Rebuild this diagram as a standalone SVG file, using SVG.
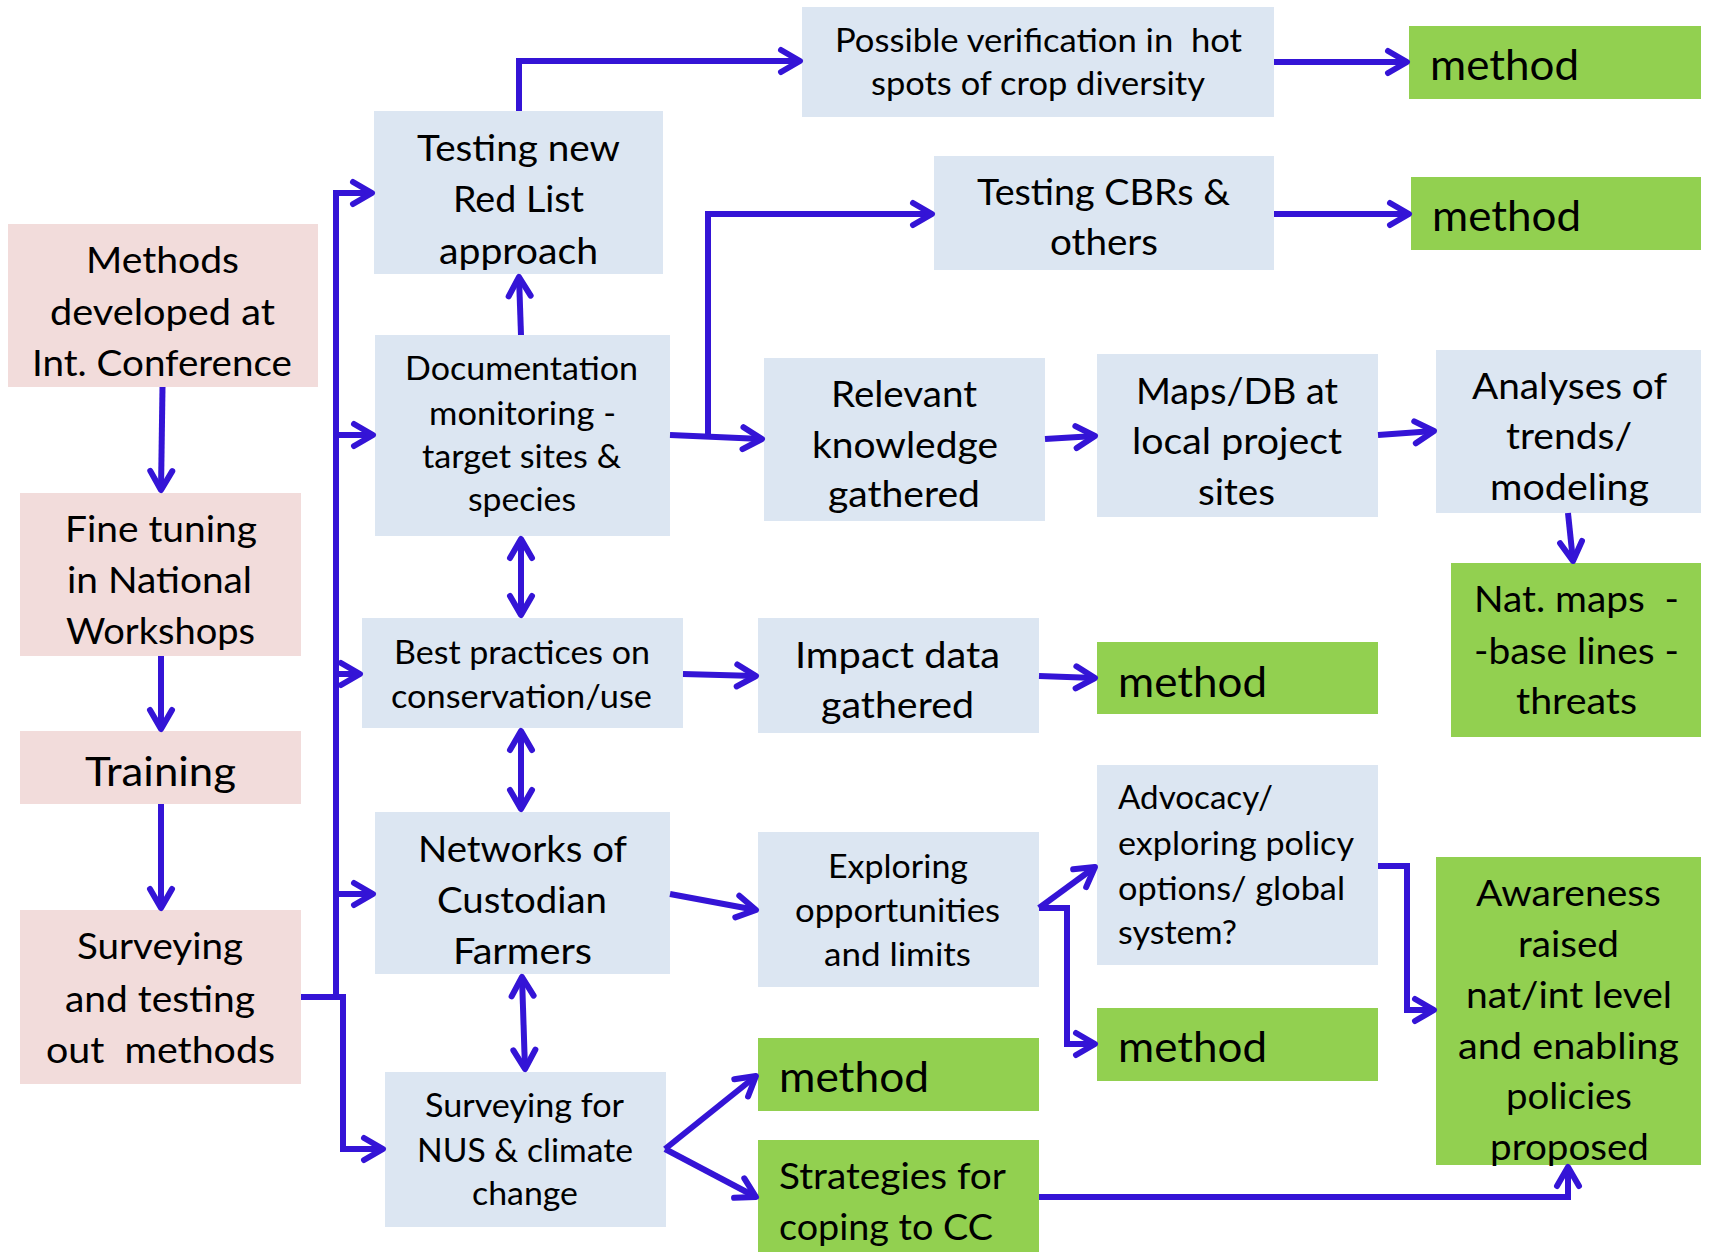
<svg xmlns="http://www.w3.org/2000/svg" width="1711" height="1252" viewBox="0 0 1711 1252">
<style>
.pink{fill:#F2DCDB}
.blue{fill:#DCE6F2}
.green{fill:#92D050}
text{font-family:Lato,"Liberation Sans",sans-serif;fill:#000;white-space:pre}
.L{font-size:37px;text-anchor:middle}
.M{font-size:32px;text-anchor:middle}
.Ml{font-size:32px}
.Ll{font-size:37px}
.tr{font-size:41px;text-anchor:middle}
.me{font-size:43px}
.c{fill:none;stroke:#3414D6;stroke-width:6;stroke-linejoin:miter}
.a{marker-end:url(#ah)}
.d{marker-end:url(#ah);marker-start:url(#ah)}
</style>
<defs>
<marker id="ah" viewBox="-26 -16 30 32" refX="0" refY="0" markerWidth="30" markerHeight="32" markerUnits="userSpaceOnUse" orient="auto-start-reverse">
<path d="M-19,-11 L0,0 L-19,11" fill="none" stroke="#3414D6" stroke-width="6" stroke-linecap="round" stroke-linejoin="round"/>
</marker>
</defs>

<g id="n-methods"><rect class="pink" x="8" y="224" width="310" height="163"/>
<text class="L" x="162.5" y="273" textLength="153" lengthAdjust="spacingAndGlyphs">Methods</text>
<text class="L" x="162.5" y="325" textLength="225" lengthAdjust="spacingAndGlyphs">developed at</text>
<text class="L" x="162" y="376" textLength="260" lengthAdjust="spacingAndGlyphs">Int. Conference</text></g>

<g id="n-finetuning"><rect class="pink" x="20" y="493" width="281" height="163"/>
<text class="L" x="161" y="542" textLength="192" lengthAdjust="spacingAndGlyphs">Fine tuning</text>
<text class="L" x="159.5" y="593" textLength="185" lengthAdjust="spacingAndGlyphs">in National</text>
<text class="L" x="160.5" y="644" textLength="189" lengthAdjust="spacingAndGlyphs">Workshops</text></g>

<g id="n-training"><rect class="pink" x="20" y="731" width="281" height="73"/>
<text class="tr" x="160.5" y="786" textLength="151" lengthAdjust="spacingAndGlyphs">Training</text></g>

<g id="n-surveying"><rect class="pink" x="20" y="910" width="281" height="174"/>
<text class="L" x="160" y="959" textLength="166" lengthAdjust="spacingAndGlyphs">Surveying</text>
<text class="L" x="160" y="1012" textLength="190" lengthAdjust="spacingAndGlyphs">and testing</text>
<text class="L" x="160.5" y="1063" textLength="229" lengthAdjust="spacingAndGlyphs">out  methods</text></g>

<g id="n-redlist"><rect class="blue" x="374" y="111" width="289" height="163"/>
<text class="L" x="518.5" y="161" textLength="203" lengthAdjust="spacingAndGlyphs">Testing new</text>
<text class="L" x="518.5" y="212" textLength="131" lengthAdjust="spacingAndGlyphs">Red List</text>
<text class="L" x="518.5" y="264" textLength="159" lengthAdjust="spacingAndGlyphs">approach</text></g>

<g id="n-documentation"><rect class="blue" x="375" y="335" width="295" height="201"/>
<text class="M" x="521.5" y="380" textLength="233" lengthAdjust="spacingAndGlyphs">Documentation</text>
<text class="M" x="522.5" y="425" textLength="187" lengthAdjust="spacingAndGlyphs">monitoring -</text>
<text class="M" x="521.5" y="468" textLength="199" lengthAdjust="spacingAndGlyphs">target sites &amp;</text>
<text class="M" x="522" y="511" textLength="108" lengthAdjust="spacingAndGlyphs">species</text></g>

<g id="n-bestpractices"><rect class="blue" x="362" y="618" width="321" height="110"/>
<text class="M" x="522" y="664" textLength="256" lengthAdjust="spacingAndGlyphs">Best practices on</text>
<text class="M" x="521.5" y="708" textLength="261" lengthAdjust="spacingAndGlyphs">conservation/use</text></g>

<g id="n-networks"><rect class="blue" x="375" y="812" width="295" height="162"/>
<text class="L" x="522.5" y="862" textLength="209" lengthAdjust="spacingAndGlyphs">Networks of</text>
<text class="L" x="522" y="913" textLength="170" lengthAdjust="spacingAndGlyphs">Custodian</text>
<text class="L" x="522.5" y="964" textLength="139" lengthAdjust="spacingAndGlyphs">Farmers</text></g>

<g id="n-nus"><rect class="blue" x="385" y="1072" width="281" height="155"/>
<text class="M" x="524.5" y="1117" textLength="199" lengthAdjust="spacingAndGlyphs">Surveying for</text>
<text class="M" x="525" y="1162" textLength="216" lengthAdjust="spacingAndGlyphs">NUS &amp; climate</text>
<text class="M" x="525" y="1205" textLength="106" lengthAdjust="spacingAndGlyphs">change</text></g>

<g id="n-possible"><rect class="blue" x="802" y="7" width="472" height="110"/>
<text class="M" x="1038.5" y="52" textLength="407" lengthAdjust="spacingAndGlyphs">Possible verification in  hot</text>
<text class="M" x="1038" y="95" textLength="334" lengthAdjust="spacingAndGlyphs">spots of crop diversity</text></g>

<g id="n-method1"><rect class="green" x="1409" y="26" width="292" height="73"/>
<text class="me" x="1430" y="80" textLength="149" lengthAdjust="spacingAndGlyphs">method</text></g>

<g id="n-cbrs"><rect class="blue" x="934" y="156" width="340" height="114"/>
<text class="L" x="1103.5" y="205" textLength="253" lengthAdjust="spacingAndGlyphs">Testing CBRs &amp;</text>
<text class="L" x="1104" y="255" textLength="108" lengthAdjust="spacingAndGlyphs">others</text></g>

<g id="n-method2"><rect class="green" x="1411" y="177" width="290" height="73"/>
<text class="me" x="1432" y="231" textLength="149" lengthAdjust="spacingAndGlyphs">method</text></g>

<g id="n-relevant"><rect class="blue" x="764" y="358" width="281" height="163"/>
<text class="L" x="904" y="407" textLength="146" lengthAdjust="spacingAndGlyphs">Relevant</text>
<text class="L" x="905" y="458" textLength="186" lengthAdjust="spacingAndGlyphs">knowledge</text>
<text class="L" x="904" y="507" textLength="152" lengthAdjust="spacingAndGlyphs">gathered</text></g>

<g id="n-maps"><rect class="blue" x="1097" y="354" width="281" height="163"/>
<text class="L" x="1237" y="404" textLength="202" lengthAdjust="spacingAndGlyphs">Maps/DB at</text>
<text class="L" x="1237" y="454" textLength="210" lengthAdjust="spacingAndGlyphs">local project</text>
<text class="L" x="1236.5" y="505" textLength="77" lengthAdjust="spacingAndGlyphs">sites</text></g>

<g id="n-analyses"><rect class="blue" x="1436" y="350" width="265" height="163"/>
<text class="L" x="1569.5" y="399" textLength="195" lengthAdjust="spacingAndGlyphs">Analyses of</text>
<text class="L" x="1569" y="449" textLength="126" lengthAdjust="spacingAndGlyphs">trends/</text>
<text class="L" x="1569.5" y="500" textLength="159" lengthAdjust="spacingAndGlyphs">modeling</text></g>

<g id="n-impact"><rect class="blue" x="758" y="618" width="281" height="115"/>
<text class="L" x="897.5" y="668" textLength="205" lengthAdjust="spacingAndGlyphs">Impact data</text>
<text class="L" x="897.5" y="718" textLength="153" lengthAdjust="spacingAndGlyphs">gathered</text></g>

<g id="n-method3"><rect class="green" x="1097" y="642" width="281" height="72"/>
<text class="me" x="1118" y="697" textLength="149" lengthAdjust="spacingAndGlyphs">method</text></g>

<g id="n-natmaps"><rect class="green" x="1451" y="563" width="250" height="174"/>
<text class="L" x="1576.5" y="612" textLength="205" lengthAdjust="spacingAndGlyphs">Nat. maps  -</text>
<text class="L" x="1576.5" y="664" textLength="205" lengthAdjust="spacingAndGlyphs">-base lines -</text>
<text class="L" x="1576.5" y="714" textLength="121" lengthAdjust="spacingAndGlyphs">threats</text></g>

<g id="n-exploring"><rect class="blue" x="758" y="832" width="281" height="155"/>
<text class="M" x="898" y="878" textLength="140" lengthAdjust="spacingAndGlyphs">Exploring</text>
<text class="M" x="897.5" y="922" textLength="205" lengthAdjust="spacingAndGlyphs">opportunities</text>
<text class="M" x="897.5" y="966" textLength="147" lengthAdjust="spacingAndGlyphs">and limits</text></g>

<g id="n-advocacy"><rect class="blue" x="1097" y="765" width="281" height="200"/>
<text class="Ml" x="1118" y="809" textLength="155" lengthAdjust="spacingAndGlyphs">Advocacy/</text>
<text class="Ml" x="1118" y="855" textLength="236" lengthAdjust="spacingAndGlyphs">exploring policy</text>
<text class="Ml" x="1118" y="900" textLength="227" lengthAdjust="spacingAndGlyphs">options/ global</text>
<text class="Ml" x="1118" y="944" textLength="119" lengthAdjust="spacingAndGlyphs">system?</text></g>

<g id="n-method4"><rect class="green" x="1097" y="1008" width="281" height="73"/>
<text class="me" x="1118" y="1062" textLength="149" lengthAdjust="spacingAndGlyphs">method</text></g>

<g id="n-awareness"><rect class="green" x="1436" y="857" width="265" height="308"/>
<text class="L" x="1568.5" y="906" textLength="185" lengthAdjust="spacingAndGlyphs">Awareness</text>
<text class="L" x="1568.5" y="957" textLength="101" lengthAdjust="spacingAndGlyphs">raised</text>
<text class="L" x="1569" y="1008" textLength="206" lengthAdjust="spacingAndGlyphs">nat/int level</text>
<text class="L" x="1568.5" y="1059" textLength="221" lengthAdjust="spacingAndGlyphs">and enabling</text>
<text class="L" x="1569" y="1109" textLength="126" lengthAdjust="spacingAndGlyphs">policies</text>
<text class="L" x="1569.5" y="1160" textLength="159" lengthAdjust="spacingAndGlyphs">proposed</text></g>

<g id="n-method5"><rect class="green" x="758" y="1038" width="281" height="73"/>
<text class="me" x="779" y="1092" textLength="150" lengthAdjust="spacingAndGlyphs">method</text></g>

<g id="n-strategies"><rect class="green" x="758" y="1140" width="281" height="112"/>
<text class="Ll" x="779" y="1189" textLength="227" lengthAdjust="spacingAndGlyphs">Strategies for</text>
<text class="Ll" x="779" y="1240" textLength="214" lengthAdjust="spacingAndGlyphs">coping to CC</text></g>

<g id="connectors">
<path class="c a" d="M162.5,387 L161,490"/>
<path class="c a" d="M161,656 L161,729"/>
<path class="c a" d="M161,804 L161,908"/>
<path class="c a" d="M301,997 L343,997 L343,1149 L383,1149"/>
<path class="c a" d="M343,997 L336,997 L336,193 L372,193"/>
<path class="c a" d="M336,435 L373,435"/>
<path class="c a" d="M336,674 L360,674"/>
<path class="c a" d="M336,894 L373,894"/>
<path class="c a" d="M519,111 L519,61 L800,61"/>
<path class="c a" d="M1274,62 L1407,62"/>
<path class="c a" d="M521,335 L519,277"/>
<path class="c a" d="M670,435 L762,439"/>
<path class="c a" d="M708,437 L708,214 L932,214"/>
<path class="c a" d="M1274,214 L1409,214"/>
<path class="c a" d="M1045,439 L1095,436"/>
<path class="c a" d="M1378,435 L1434,431"/>
<path class="c a" d="M1568,513 L1573,561"/>
<path class="c d" d="M521,539 L521,615"/>
<path class="c d" d="M521,731 L521,809"/>
<path class="c d" d="M522,977 L525,1069"/>
<path class="c a" d="M683,674 L756,676"/>
<path class="c a" d="M1039,676 L1095,678"/>
<path class="c a" d="M670,894 L756,910"/>
<path class="c a" d="M1039,908 L1095,867"/>
<path class="c a" d="M1039,908 L1067,908 L1067,1044 L1095,1044"/>
<path class="c a" d="M1378,866 L1407,866 L1407,1010 L1434,1010"/>
<path class="c a" d="M665,1149 L756,1076"/>
<path class="c a" d="M665,1149 L756,1197"/>
<path class="c a" d="M1039,1197 L1568,1197 L1568,1167"/>
</g>
</svg>
